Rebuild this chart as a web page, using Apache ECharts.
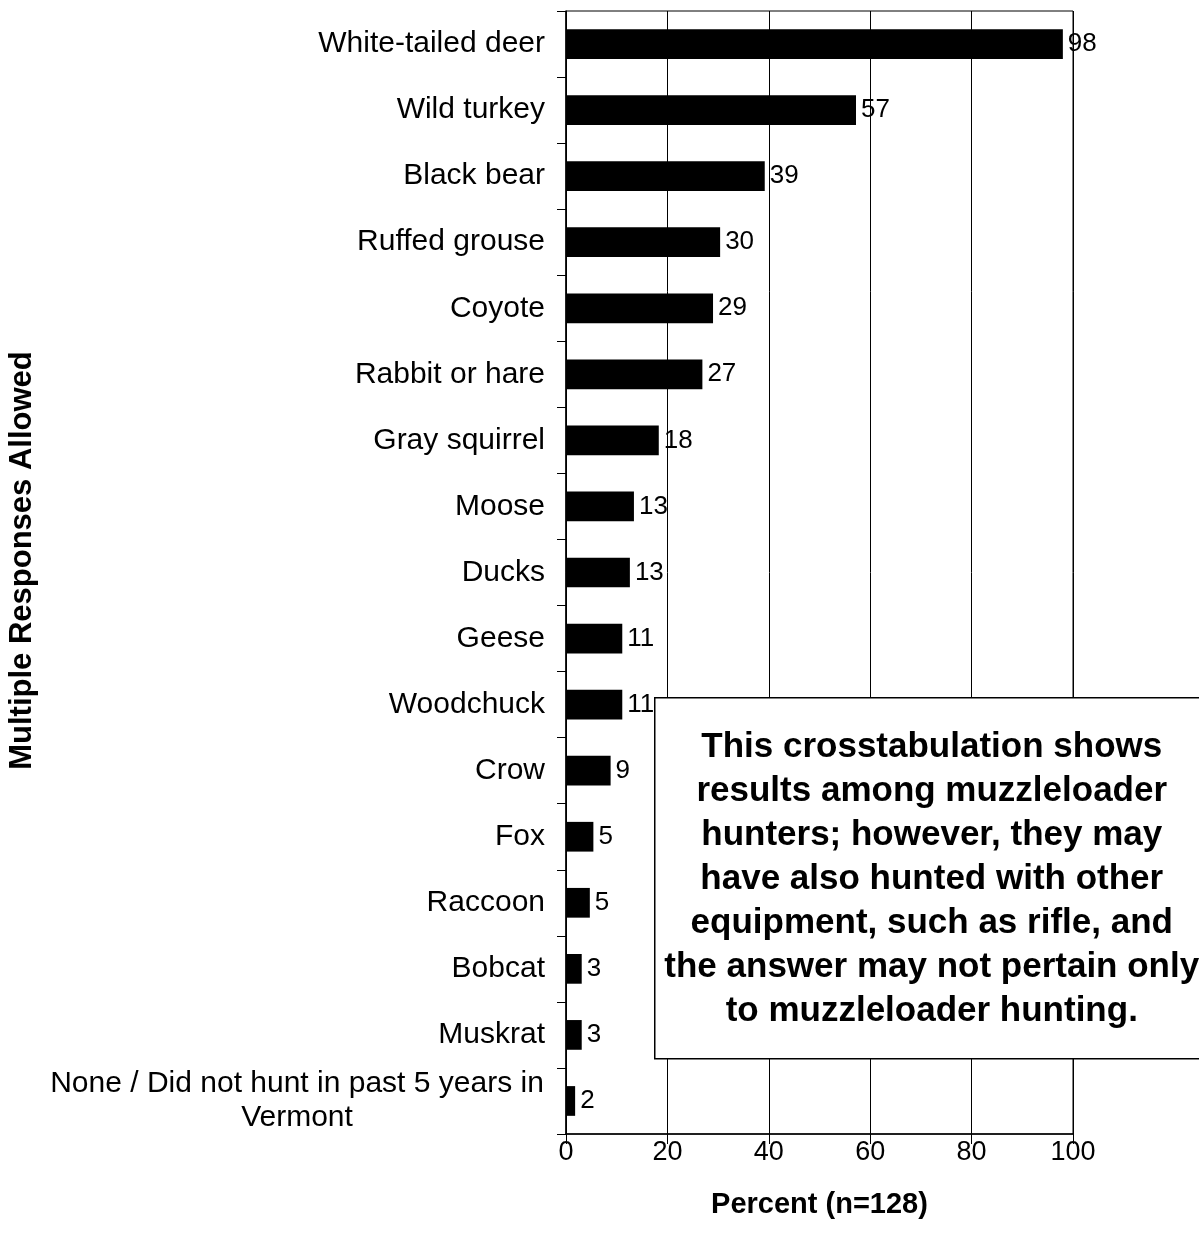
<!DOCTYPE html>
<html>
<head>
<meta charset="utf-8">
<script src="https://cdn.jsdelivr.net/npm/echarts@6/dist/echarts.min.js"></script>
<style>html,body{margin:0;padding:0;background:#fff}#c{width:1199px;height:1246px}</style>
</head>
<body>
<div id="c"></div>
<script>
var categories = ['White-tailed deer','Wild turkey','Black bear','Ruffed grouse','Coyote','Rabbit or hare','Gray squirrel','Moose','Ducks','Geese','Woodchuck','Crow','Fox','Raccoon','Bobcat','Muskrat','None / Did not hunt in past 5 years in\nVermont'];
var percents = [98, 57.2, 39.2, 30.4, 29, 26.9, 18.3, 13.4, 12.6, 11.1, 11.1, 8.8, 5.4, 4.7, 3.1, 3.1, 1.8];
var xTicks = [0, 20, 40, 60, 80, 100];
var noteText = 'This crosstabulation shows\nresults among muzzleloader\nhunters; however, they may\nhave also hunted with other\nequipment, such as rifle, and\nthe answer may not pertain only\nto muzzleloader hunting.';

var FONT = '"Liberation Sans", Arial, sans-serif';
var chart = echarts.init(document.getElementById('c'), null, {renderer: 'canvas'});
chart.setOption({
  animation: false,
  backgroundColor: '#fff',
  textStyle: {fontFamily: FONT, color: '#000'},
  grid: {left: 566, right: 126, top: 11, bottom: 112, show: true, borderColor: '#000', borderWidth: 1, backgroundColor: 'transparent'},
  xAxis: {
    type: 'value', min: xTicks[0], max: xTicks[xTicks.length - 1], interval: 20,
    name: 'Percent (n=128)', nameLocation: 'middle', nameGap: 56,
    nameTextStyle: {fontFamily: FONT, fontWeight: 'bold', fontSize: 29, color: '#000'},
    axisLine: {show: true, lineStyle: {color: '#000', width: 1.5}},
    axisTick: {show: true, length: 10, inside: false, lineStyle: {color: '#000', width: 1}},
    axisLabel: {fontFamily: FONT, fontSize: 27, color: '#000', margin: 5},
    splitLine: {show: true, lineStyle: {color: '#000', width: 1}}
  },
  yAxis: {
    type: 'category', data: categories, inverse: true,
    name: 'Multiple Responses Allowed', nameLocation: 'middle', nameGap: 528, nameRotate: 90,
    nameTextStyle: {fontFamily: FONT, fontWeight: 'bold', fontSize: 31, color: '#000', padding: [0, 0, 0, 24]},
    axisLine: {show: true, lineStyle: {color: '#000', width: 1.5}},
    axisTick: {show: true, length: 9, inside: false, lineStyle: {color: '#000', width: 1}},
    axisLabel: {
      fontFamily: FONT, fontSize: 30, color: '#000', margin: 21,
      formatter: function (v) {
        if (v.indexOf('\n') >= 0) {
          return v.split('\n').map(function (s) { return '{c|' + s + '}'; }).join('\n');
        }
        return v;
      },
      rich: {c: {fontFamily: FONT, fontSize: 30, color: '#000', width: 496, align: 'center', lineHeight: 34}}
    },
    splitLine: {show: false}
  },
  series: [{
    type: 'bar', data: percents, barWidth: '45%',
    itemStyle: {color: '#000'},
    label: {show: true, position: 'right', distance: 5, fontFamily: FONT, fontSize: 26, color: '#000',
      formatter: function (p) { return Math.round(p.value); }}
  }],
  graphic: [{
    type: 'group', left: 654, top: 697, z: 100,
    children: [
      {type: 'rect', z: 100, shape: {x: 0, y: 0, width: 560, height: 361}, style: {fill: '#fff', stroke: '#000', lineWidth: 1.5}},
      {type: 'text', z: 101, x: 277, y: 182, style: {text: noteText, font: 'bold 35px ' + FONT, fill: '#000', textAlign: 'center', textVerticalAlign: 'middle', lineHeight: 44}}
    ]
  }]
});
</script>
</body>
</html>
